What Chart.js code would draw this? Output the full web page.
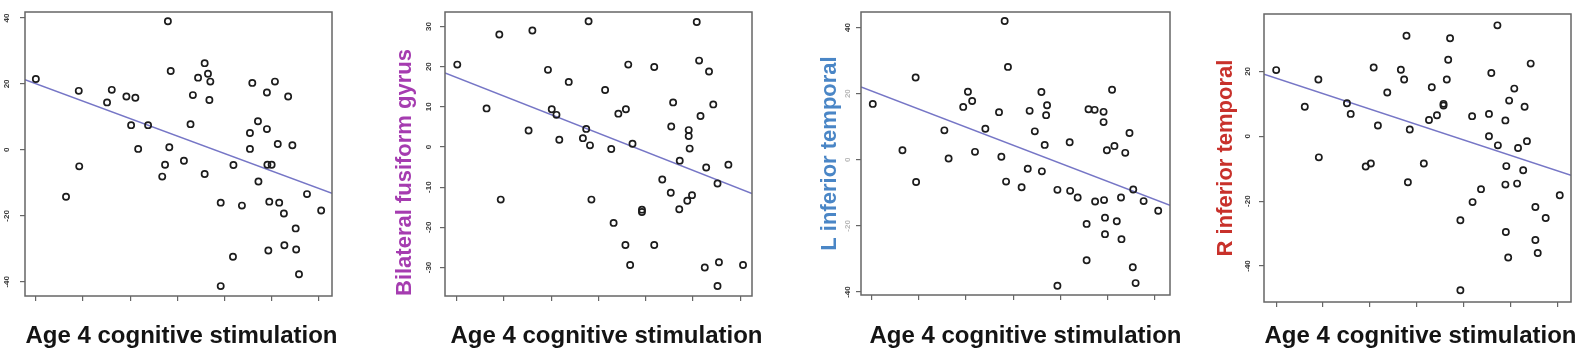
<!DOCTYPE html>
<html>
<head>
<meta charset="utf-8">
<title>Age 4 cognitive stimulation</title>
<script src="https://cdn.jsdelivr.net/npm/chart.js@4/dist/chart.umd.min.js"></script>
<style>
  body { margin: 0; background: #fff; }
  #wrap { position: relative; width: 1590px; height: 354px; overflow: hidden; }
  canvas { position: absolute; top: 0; }
</style>
</head>
<body>
<div id="wrap">
  <canvas id="c1" width="350" height="354" style="left:0px"></canvas>
  <canvas id="c2" width="385" height="354" style="left:390px"></canvas>
  <canvas id="c3" width="390" height="354" style="left:810px"></canvas>
  <canvas id="c4" width="385" height="354" style="left:1205px"></canvas>
</div>
<script>
// x ticks are shared (no labels shown), y ticks per panel
const xTicks = [0, 1, 2, 3, 4, 5, 6];

// panel 1 (no y title)
const x1 = [0, 0.64, 0.91, 0.92, 1.51, 1.61, 1.92, 2.11, 2.02, 2.17, 2.38, 2.68, 2.74, 2.80, 2.83, 2.86, 3.14, 3.28, 3.33, 3.44, 3.58, 3.65, 3.70, 3.68, 3.58, 3.92, 3.92, 4.18, 4.19, 4.37, 4.54, 4.54, 4.59, 4.71, 4.72, 4.90, 4.90, 4.91, 5.00, 4.93, 4.95, 5.07, 5.13, 5.16, 5.26, 5.27, 5.35, 5.44, 5.51, 5.52, 5.58, 5.75, 6.05];
const y1 = [21.5, -14.2, 17.9, -5.0, 14.4, 18.2, 16.2, 15.8, 7.5, 0.3, 7.5, -8.1, -4.5, 39.0, 0.8, 23.9, -3.3, 7.8, 16.6, 21.9, 26.3, 23.1, 20.7, 15.1, -7.3, -16.0, -41.3, -32.4, -4.6, -16.9, 5.1, 0.3, 20.3, 8.7, -9.6, 17.4, 6.3, -4.5, -4.5, -30.5, -15.7, 20.7, 1.8, -16.0, -19.3, -28.9, 16.2, 1.4, -23.8, -30.2, -37.7, -13.4, -18.4];
const fit1X = [-0.23, 6.28];
const fit1Y = [21.3, -13.2];
const yTicks1 = [-40, -20, 0, 20, 40];

// panel 2: Bilateral fusiform gyrus
const x2 = [0.01, 0.63, 0.90, 0.93, 1.52, 1.60, 1.93, 2.01, 2.11, 2.17, 2.37, 2.67, 2.74, 2.79, 2.82, 2.85, 3.14, 3.27, 3.32, 3.42, 3.58, 3.57, 3.63, 3.67, 3.72, 3.92, 3.92, 4.18, 4.18, 4.35, 4.53, 4.54, 4.58, 4.71, 4.72, 4.88, 4.91, 4.91, 4.93, 4.98, 5.08, 5.13, 5.16, 5.25, 5.28, 5.34, 5.43, 5.52, 5.55, 5.52, 5.75, 6.06];
const y2 = [20.5, 9.6, 28.0, -13.1, 4.1, 29.0, 19.2, 9.4, 8.0, 1.8, 16.2, 2.2, 4.5, 31.3, 0.4, -13.1, 14.2, -0.5, -18.9, 8.3, 9.4, -24.4, 20.5, -29.4, 0.8, -15.6, -16.2, 19.9, -24.4, -8.1, -11.4, 5.1, 11.1, -15.5, -3.4, -13.4, 4.2, 2.7, -0.4, -12.0, 31.1, 21.5, 7.7, -30.0, -5.1, 18.8, 10.6, -9.1, -28.7, -34.6, -4.4, -29.4];
const fit2X = [-0.25, 6.25];
const fit2Y = [18.4, -11.6];
const yTicks2 = [-30, -20, -10, 0, 10, 20, 30];

// panel 3: L inferior temporal
const x3 = [0.02, 0.65, 0.93, 0.94, 1.54, 1.63, 1.94, 2.04, 2.13, 2.19, 2.41, 2.70, 2.75, 2.82, 2.85, 2.89, 3.18, 3.31, 3.35, 3.46, 3.60, 3.61, 3.67, 3.70, 3.72, 3.94, 3.94, 4.20, 4.21, 4.37, 4.56, 4.56, 4.60, 4.73, 4.74, 4.92, 4.92, 4.93, 4.95, 4.95, 4.99, 5.10, 5.15, 5.20, 5.29, 5.30, 5.38, 5.47, 5.55, 5.54, 5.60, 5.77, 6.08];
const y3 = [16.9, 2.9, 24.9, -6.7, 8.9, 0.4, 16.0, 20.6, 17.8, 2.4, 9.4, 14.4, 0.9, 42.0, -6.6, 28.1, -8.3, -2.7, 14.8, 8.6, 20.5, -3.5, 4.5, 13.5, 16.5, -9.1, -38.1, 5.3, -9.4, -11.4, -19.4, -30.4, 15.3, 15.1, -12.6, 14.5, 11.4, -12.2, -17.5, -22.5, 2.9, 21.2, 4.2, -18.6, -11.4, -24.0, 2.1, 8.1, -9.0, -32.5, -37.3, -12.5, -15.4];
const fit3X = [-0.23, 6.33];
const fit3Y = [22.0, -13.8];
const yTicks3 = [-40, -20, 0, 20, 40];

// panel 4: R inferior temporal
const x4 = [0, 0.61, 0.90, 0.91, 1.51, 1.59, 1.91, 2.02, 2.08, 2.17, 2.37, 2.66, 2.73, 2.78, 2.85, 2.81, 3.15, 3.26, 3.32, 3.43, 3.57, 3.57, 3.64, 3.67, 3.71, 3.93, 4.18, 4.19, 4.37, 4.54, 4.54, 4.59, 4.72, 4.73, 4.89, 4.89, 4.91, 4.90, 4.95, 4.97, 5.08, 5.14, 5.16, 5.27, 5.30, 5.35, 5.43, 5.53, 5.53, 5.58, 5.75, 6.05, 3.93];
const y4 = [20.4, 9.1, 17.5, -6.5, 10.2, 6.9, -9.3, -8.4, 21.2, 3.3, 13.5, 20.5, 17.5, 31.0, 2.1, -14.2, -8.4, 5.0, 15.1, 6.5, 9.5, 10.0, 17.5, 23.6, 30.2, -25.9, 6.2, -20.3, -16.3, 6.9, 0, 19.5, 34.2, -2.8, 4.9, -14.9, -9.2, -29.5, -37.4, 11.0, 14.7, -14.6, -3.6, -10.5, 9.1, -1.5, 22.4, -21.8, -32.0, -36.0, -25.2, -18.2, -47.5];
const fit4X = [-0.26, 6.29];
const fit4Y = [19.1, -12.0];
const yTicks4 = [-40, -20, 0, 20];

const xLabel = 'Age 4 cognitive stimulation';
const FONT = '"Liberation Sans", Arial, Helvetica, sans-serif';

// box around the plot + the bold x label under it
const framePlugin = {
  id: 'frame',
  afterDraw(chart, args, opts) {
    const { ctx, chartArea: a } = chart;
    ctx.save();
    ctx.strokeStyle = '#666';
    ctx.lineWidth = 1.5;
    ctx.strokeRect(a.left, a.top, a.right - a.left, a.bottom - a.top);
    ctx.fillStyle = '#141414';
    ctx.font = 'bold 24px ' + FONT;
    ctx.textAlign = 'center';
    ctx.textBaseline = 'alphabetic';
    ctx.fillText(opts.text, (a.left + a.right) / 2 + opts.dx, opts.y);
    ctx.restore();
  }
};

function makePanel(id, xs, ys, fitX, fitY, yTicks, cfg) {
  const pts = xs.map((v, i) => ({ x: v, y: ys[i] }));
  const fit = fitX.map((v, i) => ({ x: v, y: fitY[i] }));
  return new Chart(document.getElementById(id), {
    type: 'scatter',
    data: {
      datasets: [{
        data: pts,
        pointRadius: 3.1,
        pointBorderWidth: 1.7,
        pointBorderColor: '#1c1c1c',
        pointBackgroundColor: 'rgba(0,0,0,0)'
      }, {
        type: 'line',
        data: fit,
        borderColor: '#7676c6',
        borderWidth: 1.5,
        pointRadius: 0
      }]
    },
    plugins: [framePlugin],
    options: {
      responsive: false,
      animation: false,
      devicePixelRatio: 1,
      layout: { padding: { top: cfg.top, right: cfg.right, left: 0, bottom: 0 } },
      plugins: {
        legend: { display: false },
        tooltip: { enabled: false },
        frame: { text: xLabel, dx: cfg.dx, y: 343 }
      },
      scales: {
        x: {
          type: 'linear',
          min: cfg.xMin,
          max: cfg.xMax,
          afterBuildTicks: s => { s.ticks = xTicks.map(v => ({ value: v })); },
          afterFit: s => { s.height = cfg.xHeight; },
          ticks: { display: false },
          grid: { drawOnChartArea: false, tickLength: 5, tickColor: '#666', lineWidth: 1.2 },
          border: { display: false }
        },
        y: {
          type: 'linear',
          min: cfg.yMin,
          max: cfg.yMax,
          afterBuildTicks: s => { s.ticks = yTicks.map(v => ({ value: v })); },
          afterFit: s => { s.width = cfg.yWidth; },
          ticks: {
            minRotation: 90,
            maxRotation: 90,
            crossAlign: 'center',
            padding: cfg.tickPad,
            font: { size: 8, weight: 'bold', family: FONT },
            color: cfg.tickColor || '#3a3a3a'
          },
          grid: { drawOnChartArea: false, tickLength: 5, tickColor: '#666', lineWidth: 1.2 },
          border: { display: false },
          title: {
            display: !!cfg.yTitle,
            text: cfg.yTitle || '',
            color: cfg.yTitleColor,
            align: cfg.yAlign || 'center',
            font: { size: 22, weight: 'bold', family: FONT, lineHeight: 1 },
            padding: { top: cfg.yTitlePad, bottom: 0 }
          }
        }
      }
    }
  });
}

makePanel('c1', x1, y1, fit1X, fit1Y, yTicks1, {
  top: 12, right: 18, xHeight: 58, yWidth: 25, tickPad: 7, dx: 3,
  xMin: -0.23, xMax: 6.28, yMin: -44.3, yMax: 41.8
});
makePanel('c2', x2, y2, fit2X, fit2Y, yTicks2, {
  top: 12, right: 23, xHeight: 58, yWidth: 55, tickPad: 5, dx: 8,
  xMin: -0.25, xMax: 6.25, yMin: -37.1, yMax: 33.6,
  yTitle: 'Bilateral fusiform gyrus', yTitleColor: '#a53cb0', yTitlePad: 4, yAlign: 'start'
});
makePanel('c3', x3, y3, fit3X, fit3Y, yTicks3, {
  top: 12, right: 30, xHeight: 59, yWidth: 51, tickPad: 2, dx: 10,
  xMin: -0.23, xMax: 6.33, yMin: -40.9, yMax: 44.7,
  yTitle: 'L inferior temporal', yTitleColor: '#4a86c6', yTitlePad: 9,
  tickColor: c => (c.index === 0 || c.index === 4) ? '#3a3a3a' : '#b8b8b8'
});
makePanel('c4', x4, y4, fit4X, fit4Y, yTicks4, {
  top: 14, right: 19, xHeight: 52, yWidth: 59, tickPad: 5, dx: 3,
  xMin: -0.26, xMax: 6.29, yMin: -51.1, yMax: 37.7,
  yTitle: 'R inferior temporal', yTitleColor: '#c8312b', yTitlePad: 10
});
</script>
</body>
</html>
